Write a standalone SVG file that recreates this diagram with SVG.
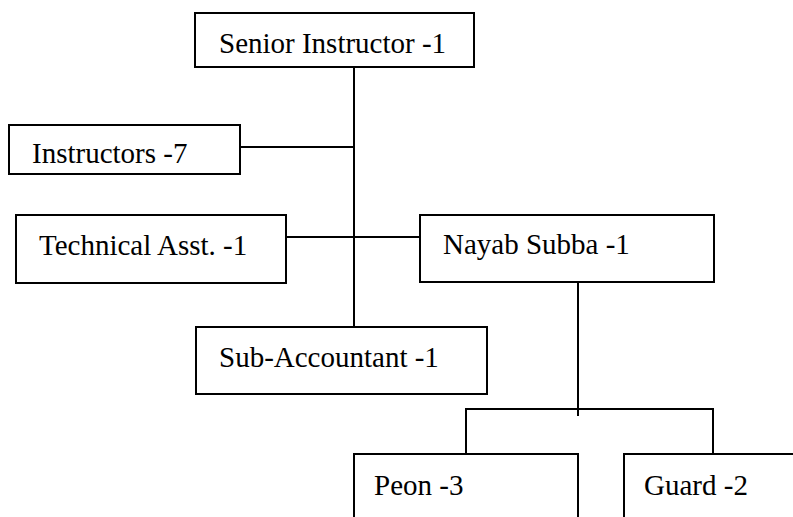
<svg xmlns="http://www.w3.org/2000/svg" width="793" height="517" viewBox="0 0 793 517">
<style>
.box{fill:#fff;stroke:#000;stroke-width:2}
.ln{fill:none;stroke:#000;stroke-width:2}
.t{font-family:"Liberation Serif","Times New Roman",serif;font-size:29px;fill:#000}
</style>
<rect width="793" height="517" fill="#fff"/>
<g id="connectors">
<path class="ln" d="M354,57 V327"/>
<path class="ln" d="M240,147 H354"/>
<path class="ln" d="M286,237 H420"/>
<path class="ln" d="M578,282 V416"/>
<path class="ln" d="M466,454 V409 H713 V454"/>
</g>
<g id="senior">
<rect class="box" x="195" y="13" width="279" height="54"/>
<text class="t" x="219" y="53">Senior Instructor -1</text>
</g>
<g id="instructors">
<rect class="box" x="9" y="125" width="231" height="49"/>
<text class="t" x="32" y="163">Instructors -7</text>
</g>
<g id="technical">
<rect class="box" x="16" y="215" width="270" height="68"/>
<text class="t" x="39" y="255">Technical Asst. -1</text>
</g>
<g id="nayab">
<rect class="box" x="420" y="215" width="294" height="67"/>
<text class="t" x="443" y="254">Nayab Subba -1</text>
</g>
<g id="subaccountant">
<rect class="box" x="196" y="327" width="291" height="67"/>
<text class="t" x="219" y="367">Sub-Accountant -1</text>
</g>
<g id="peon">
<rect class="box" x="354" y="454" width="224" height="80"/>
<text class="t" x="374" y="495">Peon -3</text>
</g>
<g id="guard">
<rect class="box" x="624" y="454" width="190" height="80"/>
<text class="t" x="644" y="495">Guard -2</text>
</g>
</svg>
